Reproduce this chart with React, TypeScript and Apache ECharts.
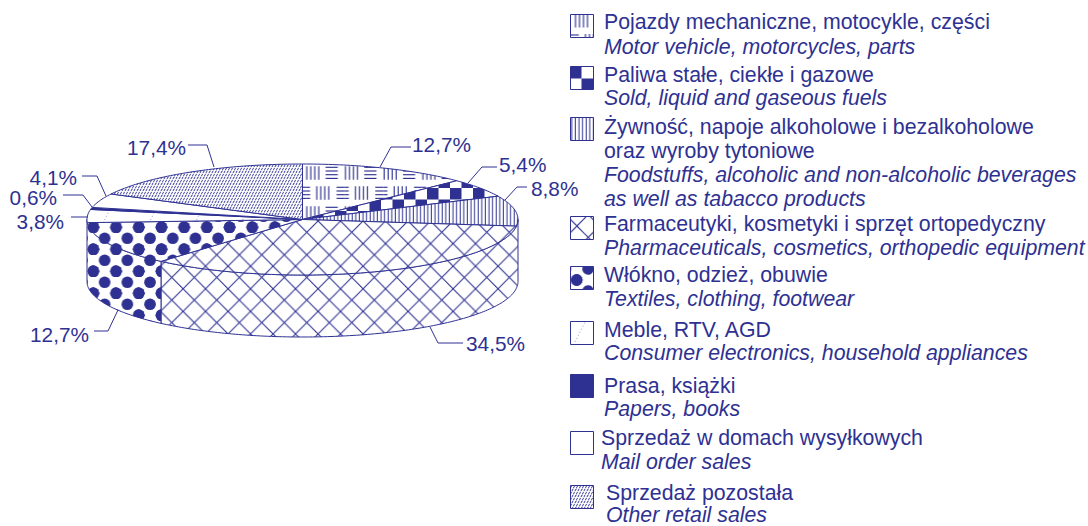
import React, { useEffect, useRef } from "react";
import * as echarts from "echarts";

// ---- data ----
const shareValues = [12.7, 5.4, 8.8, 34.5, 12.7, 3.8, 0.6, 4.1, 17.4];
const namesPl = [
  ["Pojazdy mechaniczne, motocykle, części"],
  ["Paliwa stałe, ciekłe i gazowe"],
  ["Żywność, napoje alkoholowe i bezalkoholowe", "oraz wyroby tytoniowe"],
  ["Farmaceutyki, kosmetyki i sprzęt ortopedyczny"],
  ["Włókno, odzież, obuwie"],
  ["Meble, RTV, AGD"],
  ["Prasa, książki"],
  ["Sprzedaż w domach wysyłkowych"],
  ["Sprzedaż pozostała"],
];
const namesEn = [
  ["Motor vehicle, motorcycles, parts"],
  ["Sold, liquid and gaseous fuels"],
  ["Foodstuffs, alcoholic and non-alcoholic beverages", "as well as tabacco products"],
  ["Pharmaceuticals, cosmetics, orthopedic equipment"],
  ["Textiles, clothing, footwear"],
  ["Consumer electronics, household appliances"],
  ["Papers, books"],
  ["Mail order sales"],
  ["Other retail sales"],
];

// ---- layout and style ----
const INK = "#2e3192";
const FONT = '"Liberation Sans", Arial, sans-serif';
const CX = 302.5, CY = 219.5, RX = 215.5, RY = 55.5, DEPTH = 62;
// the reference wall shows only these two slices: they run to the rim's far ends
const WALL_SLICES = [3, 4];

const line = (x1: number, y1: number, x2: number, y2: number, w = 1) =>
  `<line x1="${x1}" y1="${y1}" x2="${x2}" y2="${y2}" stroke="${INK}" stroke-width="${w}"/>`;
const pat = (w: number, h: number, body: string) => ({ body, w, h });

const range = (a: number, n: number, s: number) => Array.from({ length: n }, (_, i) => a + i * s);
const weave =
  range(0.5, 4, 4).map((x) => line(x, 0, x, 13.5, 1.15)).join("") +
  range(1, 4, 3.7).map((y) => line(19.3, y, 31.5, y, 1.15)).join("") +
  range(10.5, 4, 4).map((x) => line(x, 20, x, 33.5, 1.15)).join("") +
  range(21, 4, 3.7).map((y) => line(30.3, y, 38.7, y, 1.15) + line(0, y, 3.8, y, 1.15)).join("");
const dots = [[0, 0], [22.7, 0], [0, 22], [22.7, 22], [11.35, 11]]
  .map(([x, y]) => `<circle cx="${x}" cy="${y}" r="5.8" fill="${INK}"/>`).join("");
const fine =
  [[1, 1], [4, 1], [2.5, 4], [5.5, 4], [-0.5, 4]]
    .map(([x, y]) => `<path d="M${x - 0.6} ${y + 1.2}L${x + 0.6} ${y - 1.2}" stroke="${INK}" stroke-width="0.95"/>`).join("");
const sparse =
  `<path d="M0 26L13 0" stroke="${INK}" stroke-opacity="0.55" stroke-width="0.8" stroke-dasharray="1.2 2.2"/>`;

const patterns = [
  pat(38.7, 40, weave),
  pat(23, 23, `<rect width="11.5" height="11.5" fill="${INK}"/><rect x="11.5" y="11.5" width="11.5" height="11.5" fill="${INK}"/>`),
  pat(3.6, 4, line(1.8, 0, 1.8, 4, 1)),
  pat(22.5, 22.6, line(0, 0, 22.5, 22.6, 1.1) + line(22.5, 0, 0, 22.6, 1.1)),
  pat(22.7, 22, dots),
  pat(46, 26, sparse),
  null,
  null,
  pat(6, 6, fine),
];
const solidFill = [null, null, null, null, null, null, INK, "#ffffff", null];
const pieOffsets = [[306.3, 166.3], [450, 188], [300, 0], [329.3, 232.3], [93.3, 227.3], [100, 203], [0, 0], [0, 0], [0, 0]];
const swatchOffsets = [[575, 14], [570, 67], [570, 117], [577, 226], [576.7, 280], [572, 322], [0, 0], [0, 0], [0, 0]];

const swatchX = 570.5, swatchSize = 23;
const swatchY = [14.5, 66.5, 117.5, 216.5, 266.5, 321.5, 374.5, 431.5, 485.5];
const textX = [604, 604, 604, 604, 604, 604, 604, 601, 606];
const lineY = [
  [22, 47], [75, 98], [127, 151, 175, 199], [224, 248], [275, 299], [330, 353], [386, 409], [438, 462], [493, 515],
];

// label anchor (left/right aligned text) and leader polyline, per slice
const labelPos = [
  { x: 412, y: 144, align: "left" },
  { x: 499, y: 164, align: "left" },
  { x: 531, y: 188, align: "left" },
  { x: 466, y: 343, align: "left" },
  { x: 89, y: 334, align: "right" },
  { x: 64, y: 221, align: "right" },
  { x: 57, y: 197, align: "right" },
  { x: 77, y: 177, align: "right" },
  { x: 186, y: 147, align: "right" },
];
const leaders = [
  [[380, 167], [391, 147], [411, 147]],
  [[468, 183], [482, 167], [497, 167]],
  [[505, 200], [517, 187], [527, 187]],
  [[430, 327], [438, 343], [463, 343]],
  [[94, 331], [108, 331], [118, 310]],
  [[71, 217], [88, 217]],
  [[63, 195], [83, 195], [92, 207]],
  [[82, 176], [97, 176], [106, 196]],
  [[188, 145], [207, 145], [214, 167]],
];

// The pattern's phase is baked into the tile itself.
const fillFor = (i: number, offs: number[][]) => {
  const p = patterns[i];
  if (!p) return solidFill[i] as string;
  const ox = ((offs[i][0] % p.w) + p.w) % p.w;
  const oy = ((offs[i][1] % p.h) + p.h) % p.h;
  const copies = [[0, 0], [-p.w, 0], [0, -p.h], [-p.w, -p.h]]
    .map(([dx, dy]) => `<g transform="translate(${ox + dx} ${oy + dy})">${p.body}</g>`)
    .join("");
  const svg = `<svg xmlns="http://www.w3.org/2000/svg" width="${p.w}" height="${p.h}" viewBox="0 0 ${p.w} ${p.h}"><rect width="${p.w}" height="${p.h}" fill="#fff"/>${copies}</svg>`;
  return {
    image: "data:image/svg+xml," + encodeURIComponent(svg),
    imageWidth: p.w,
    imageHeight: p.h,
    repeat: "repeat",
  };
};

const total = shareValues.reduce((a, b) => a + b, 0);
const cumulative = shareValues.map((_, i) => shareValues.slice(0, i).reduce((a, b) => a + b, 0));
const toDeg = (v: number) => (v / total) * 360;

// angle in degrees clockwise from twelve o'clock
const pt = (deg: number, dy = 0) => {
  const r = (deg * Math.PI) / 180;
  return [CX + RX * Math.sin(r), CY - RY * Math.cos(r) + dy];
};
const arc = (a0: number, a1: number, dy = 0) => {
  const n = Math.max(2, Math.ceil(a1 - a0));
  const out: number[][] = [];
  for (let k = 0; k <= n; k++) out.push(pt(a0 + ((a1 - a0) * k) / n, dy));
  return out;
};

const renderSlice = (params: any, api: any) => {
  const i = params.dataIndex;
  const a0 = toDeg(cumulative[i]);
  const a1 = a0 + toDeg(api.value(0));
  const fill = fillFor(i, pieOffsets);
  const stroke = { stroke: INK, lineWidth: 1, lineJoin: "round" };
  const children: any[] = [];
  if (WALL_SLICES.includes(i)) {
    const s0 = i === WALL_SLICES[0] ? 90 : a0;
    const s1 = i === WALL_SLICES[1] ? 270 : a1;
    children.push({
      type: "polygon",
      shape: { points: [...arc(s0, s1), ...arc(s0, s1, DEPTH).reverse()] },
      style: { fill, ...stroke },
    });
  }
  children.push({
    type: "polygon",
    shape: { points: [[CX, CY], ...arc(a0, a1)] },
    style: { fill, ...stroke },
  });
  return { type: "group", children };
};

const renderLabel = (params: any, api: any) => {
  const i = params.dataIndex;
  const lp = labelPos[i];
  return {
    type: "group",
    children: [
      {
        type: "polyline",
        shape: { points: leaders[i] },
        style: { fill: "none", stroke: INK, lineWidth: 1 },
      },
      {
        type: "text",
        x: lp.x,
        y: lp.y,
        style: {
          text: api.value(0).toFixed(1).replace(".", ",") + "%",
          fill: INK,
          font: `20.8px ${FONT}`,
          align: lp.align,
          textAlign: lp.align,
          verticalAlign: "middle",
          textVerticalAlign: "middle",
        },
      },
    ],
  };
};

const legendGraphics = () => {
  const out: any[] = [];
  shareValues.forEach((_, i) => {
    out.push({
      type: "rect",
      shape: { x: swatchX, y: swatchY[i], width: swatchSize, height: swatchSize },
      style: { fill: fillFor(i, swatchOffsets), stroke: INK, lineWidth: 1 },
      silent: true,
    });
    const lines = [
      ...namesPl[i].map((t) => ({ t, italic: false })),
      ...namesEn[i].map((t) => ({ t, italic: true })),
    ];
    lines.forEach((l, k) => {
      out.push({
        type: "text",
        x: textX[i],
        y: lineY[i][k],
        silent: true,
        style: {
          text: l.t,
          fill: INK,
          font: `${l.italic ? "italic " : ""}21.3px ${FONT}`,
          align: "left",
          textAlign: "left",
          verticalAlign: "middle",
          textVerticalAlign: "middle",
        },
      });
    });
  });
  return out;
};

export default function App() {
  const ref = useRef<HTMLDivElement>(null);
  useEffect(() => {
    if (!ref.current) return;
    const chart = echarts.init(ref.current, undefined, { renderer: "svg" });
    const data = shareValues.map((v) => [v]);
    chart.setOption({
      animation: false,
      backgroundColor: "#ffffff",
      series: [
        { type: "custom", coordinateSystem: "none", silent: true, clip: false, data, renderItem: renderSlice, z: 2 },
        { type: "custom", coordinateSystem: "none", silent: true, clip: false, data, renderItem: renderLabel, z: 3 },
      ],
      graphic: { elements: legendGraphics() },
    });
    return () => chart.dispose();
  }, []);
  return (
    <div
      ref={ref}
      style={{ position: "fixed", left: 0, top: 0, width: 1088, height: 526 }}
    />
  );
}
